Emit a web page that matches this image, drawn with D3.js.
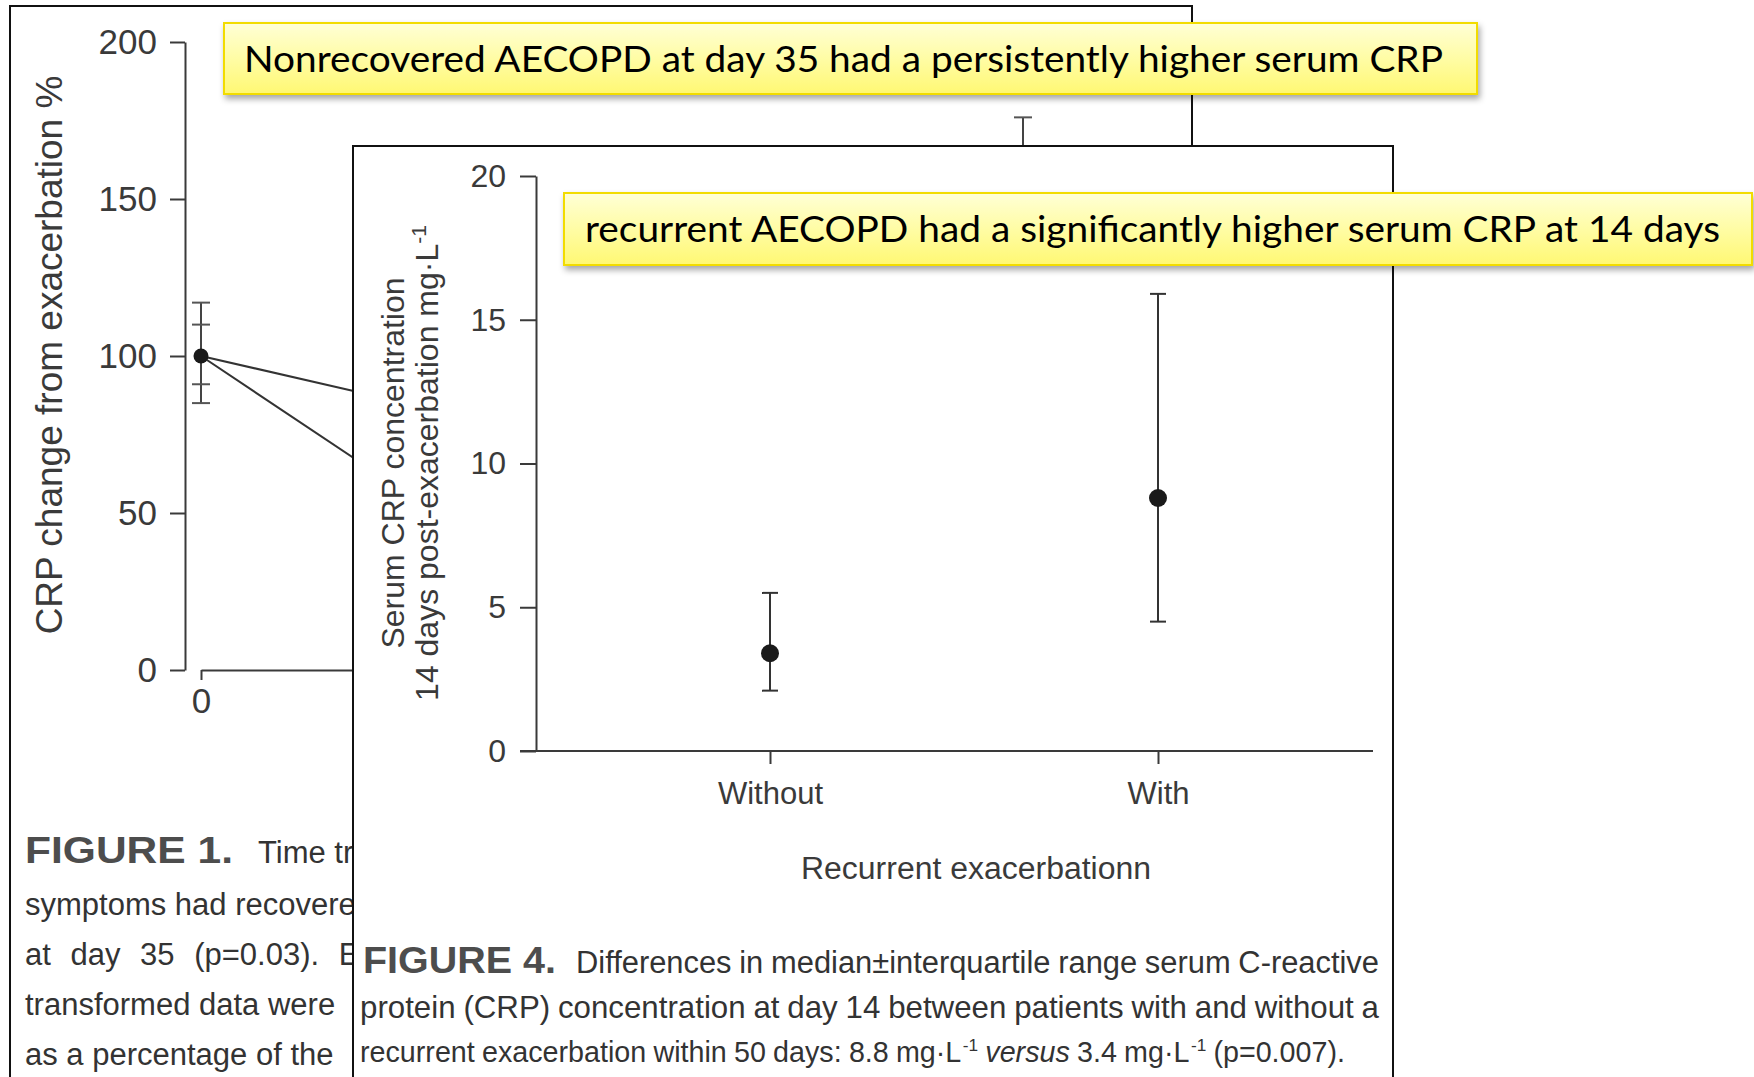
<!DOCTYPE html>
<html>
<head>
<meta charset="utf-8">
<script src="https://cdn.jsdelivr.net/npm/d3@7"></script>
<style>
  html, body { margin: 0; padding: 0; background: #fff; }
  svg { display: block; }
</style>
</head>
<body>
<svg id="chart" width="1754" height="1077"></svg>
<script>
// ---- Figure 1: CRP change from exacerbation (%) over time ----
const timeDays = [0, 7, 35];
const nonrecoveredMedian = [100, 88, 120];
const nonrecoveredQ1 = [85, 70, 82];
const nonrecoveredQ3 = [117, 104, 176];
const recoveredMedian = [100, 65, 42];
const recoveredQ1 = [91, 50, 30];
const recoveredQ3 = [110, 80, 60];
const pctTicks = [0, 50, 100, 150, 200];
const dayTicks = [0];

// ---- Figure 4: serum CRP at day 14 by recurrence ----
const groups = ["Without", "With"];
const crpMedian = [3.4, 8.8];
const crpQ1 = [2.1, 4.5];
const crpQ3 = [5.5, 15.9];
const crpTicks = [0, 5, 10, 15, 20];

// ---- Call-out notes ----
const noteTexts = [
  "Nonrecovered AECOPD at day 35 had a persistently higher serum CRP",
  "recurrent AECOPD had a significantly higher serum CRP at 14 days"
];

const svg = d3.select("#chart");
const SANS = "'Liberation Sans', Arial, Helvetica, sans-serif";
const NARROW = "'Liberation Sans Narrow', 'Arial Narrow', 'Liberation Sans', Arial, sans-serif";
const AXIS = "#3a3a3a";

// defs: note gradient + shadow
const defs = svg.append("defs");
const grad = defs.append("linearGradient").attr("id", "noteFill")
  .attr("x1", 0).attr("y1", 0).attr("x2", 0).attr("y2", 1);
grad.append("stop").attr("offset", "0%").attr("stop-color", "#ffffd6");
grad.append("stop").attr("offset", "55%").attr("stop-color", "#fffca0");
grad.append("stop").attr("offset", "100%").attr("stop-color", "#fff873");
const shadow = defs.append("filter").attr("id", "noteShadow")
  .attr("x", "-5%").attr("y", "-30%").attr("width", "110%").attr("height", "170%");
shadow.append("feDropShadow").attr("dx", 2).attr("dy", 4).attr("stdDeviation", 3)
  .attr("flood-color", "#000").attr("flood-opacity", 0.35);

function styleAxis(g, size, color) {
  g.attr("font-family", SANS).attr("font-size", size);
  g.selectAll("line").attr("stroke", color).attr("stroke-width", 2);
  g.selectAll("path.domain").attr("stroke", color).attr("stroke-width", 2);
  g.selectAll("text").attr("fill", color);
}

// Lays out one caption line word by word in a narrow face. A justified line
// spreads the leftover room across the word gaps; the last line of a
// paragraph keeps normal spacing and is sized to run to `width`.
function captionLine(parent, segs, x, y, width, fs, justify) {
  const items = segs.map(s => {
    const el = parent.append("text")
      .attr("font-family", NARROW)
      .attr("font-size", s.sup ? fs * 0.6 : fs)
      .attr("font-style", s.italic ? "italic" : null)
      .text(s.t);
    return { s, el, w: el.node().getComputedTextLength() };
  });
  const gaps = items.filter((d, i) => i > 0 && !d.s.attach).length;
  const sumW = d3.sum(items, d => d.w);
  const space = fs * 0.25;
  const natural = sumW + gaps * space;
  let k = 1;
  if (!justify || natural > width) k = width / natural;
  const f = fs * k;
  const gap = justify ? (gaps ? (width - sumW * k) / gaps : 0) : space * k;
  let cx = x;
  items.forEach((d, i) => {
    if (i > 0) cx += d.s.attach ? 1.5 : gap;
    d.el.attr("font-size", d.s.sup ? f * 0.6 : f)
      .attr("x", cx)
      .attr("y", d.s.sup ? y - f * 0.38 : y);
    cx += d.w * k;
  });
}
const words = str => str.split(" ").map(t => ({ t }));

// =================== Figure 1 (background page) ===================
const f1 = svg.append("g");
f1.append("rect").attr("x", 10).attr("y", 6).attr("width", 1182).attr("height", 1120)
  .attr("fill", "#fff").attr("stroke", "#111").attr("stroke-width", 2);

const y1 = d3.scaleLinear().domain([0, 200]).range([670, 42]);
const x1 = d3.scaleLinear().domain([0, 35]).range([201, 1023]);

const y1Axis = f1.append("g").attr("transform", "translate(185,0)")
  .call(d3.axisLeft(y1).tickValues(pctTicks).tickSize(15).tickSizeOuter(0).tickPadding(13));
styleAxis(y1Axis, 35, AXIS);

const x1Axis = f1.append("g").attr("transform", "translate(0,670)")
  .call(d3.axisBottom(x1).tickValues(dayTicks).tickSize(10).tickSizeOuter(0).tickPadding(8));
styleAxis(x1Axis, 35, AXIS);

f1.append("text")
  .attr("transform", "translate(62,355) rotate(-90)")
  .attr("text-anchor", "middle").attr("font-family", SANS).attr("font-size", 37)
  .attr("fill", AXIS).text("CRP change from exacerbation %");

const f1Series = [
  { med: nonrecoveredMedian, lo: nonrecoveredQ1, hi: nonrecoveredQ3 },
  { med: recoveredMedian, lo: recoveredQ1, hi: recoveredQ3 }
];
const line1 = d3.line().x((d, i) => x1(timeDays[i])).y(d => y1(d));
f1Series.forEach(s => {
  f1.append("path").attr("d", line1(s.med)).attr("fill", "none")
    .attr("stroke", "#333").attr("stroke-width", 2);
  timeDays.forEach((day, i) => {
    const cx = x1(day);
    f1.append("line").attr("x1", cx).attr("x2", cx)
      .attr("y1", y1(s.lo[i])).attr("y2", y1(s.hi[i]))
      .attr("stroke", "#444").attr("stroke-width", 2);
    [s.lo[i], s.hi[i]].forEach(v => {
      f1.append("line").attr("x1", cx - 9).attr("x2", cx + 9)
        .attr("y1", y1(v)).attr("y2", y1(v))
        .attr("stroke", "#555").attr("stroke-width", 2);
    });
  });
});
f1.append("circle").attr("cx", x1(timeDays[0])).attr("cy", y1(nonrecoveredMedian[0]))
  .attr("r", 7.5).attr("fill", "#1a1a1a");

// Figure 1 caption
const cap1 = f1.append("g").attr("font-family", SANS).attr("fill", "#333");
cap1.append("text").attr("x", 25).attr("y", 863).attr("font-size", 37)
  .attr("font-weight", "bold").attr("fill", "#4d4d4d")
  .attr("textLength", 208).attr("lengthAdjust", "spacingAndGlyphs").text("FIGURE 1.");
cap1.append("text").attr("x", 258).attr("y", 863).attr("font-size", 31).text("Time tr");
cap1.append("text").attr("x", 25).attr("y", 915).attr("font-size", 31).text("symptoms had recovere");
cap1.append("text").attr("x", 25).attr("y", 965).attr("font-size", 31)
  .attr("word-spacing", "11px").text("at day 35 (p=0.03). E");
cap1.append("text").attr("x", 25).attr("y", 1015).attr("font-size", 31).text("transformed data were");
cap1.append("text").attr("x", 25).attr("y", 1065).attr("font-size", 31).text("as a percentage of the");

// =================== Figure 4 (front page) ===================
const f4 = svg.append("g");
f4.append("rect").attr("x", 353).attr("y", 146).attr("width", 1040).attr("height", 1000)
  .attr("fill", "#fff").attr("stroke", "#111").attr("stroke-width", 2);

const y4 = d3.scaleLinear().domain([0, 20]).range([751, 176]);
const x4 = d3.scalePoint().domain(groups).range([770, 1158]);

const y4Axis = f4.append("g").attr("transform", "translate(536,0)")
  .call(d3.axisLeft(y4).tickValues(crpTicks).tickSize(16).tickSizeOuter(0).tickPadding(14));
styleAxis(y4Axis, 32, AXIS);

const x4Axis = f4.append("g").attr("transform", "translate(0,751)")
  .call(d3.axisBottom(x4).tickSize(13).tickSizeOuter(0).tickPadding(18));
x4Axis.select("path.domain").remove();
styleAxis(x4Axis, 31, AXIS);
f4.append("line").attr("x1", 520).attr("x2", 1373).attr("y1", 751).attr("y2", 751)
  .attr("stroke", AXIS).attr("stroke-width", 2);

// y title (two lines)
f4.append("text").attr("transform", "translate(404,463) rotate(-90)")
  .attr("text-anchor", "middle").attr("font-family", SANS).attr("font-size", 32).attr("fill", AXIS)
  .text("Serum CRP concentration");
const yt2 = f4.append("text").attr("transform", "translate(438,463) rotate(-90)")
  .attr("text-anchor", "middle").attr("font-family", SANS).attr("font-size", 32).attr("fill", AXIS);
yt2.append("tspan").text("14 days post-exacerbation mg\u00b7L");
yt2.append("tspan").attr("font-size", 21).attr("dy", -12).text("-1");

f4.append("text").attr("x", 976).attr("y", 879).attr("text-anchor", "middle")
  .attr("font-family", SANS).attr("font-size", 31).attr("fill", AXIS)
  .attr("textLength", 350).attr("lengthAdjust", "spacingAndGlyphs")
  .text("Recurrent exacerbationn");

// median ± IQR markers
groups.forEach((g, i) => {
  const cx = x4(g);
  f4.append("line").attr("x1", cx).attr("x2", cx)
    .attr("y1", y4(crpQ1[i])).attr("y2", y4(crpQ3[i]))
    .attr("stroke", "#333").attr("stroke-width", 2);
  [crpQ1[i], crpQ3[i]].forEach(v => {
    f4.append("line").attr("x1", cx - 8).attr("x2", cx + 8)
      .attr("y1", y4(v)).attr("y2", y4(v))
      .attr("stroke", "#333").attr("stroke-width", 2);
  });
  f4.append("circle").attr("cx", cx).attr("cy", y4(crpMedian[i]))
    .attr("r", 9).attr("fill", "#1a1a1a");
});

// Figure 4 caption (justified)
const cap4 = f4.append("g").attr("fill", "#333");
cap4.append("text").attr("x", 363).attr("y", 973).attr("font-family", SANS).attr("font-size", 36)
  .attr("font-weight", "bold").attr("fill", "#4d4d4d")
  .attr("textLength", 193).attr("lengthAdjust", "spacingAndGlyphs").text("FIGURE 4.");
captionLine(cap4, words("Differences in median\u00b1interquartile range serum C-reactive"),
  576, 973, 803, 33, true);
captionLine(cap4, words("protein (CRP) concentration at day 14 between patients with and without a"),
  360, 1018, 1019, 33, true);
captionLine(cap4, [
  ...words("recurrent exacerbation within 50 days: 8.8 mg\u00b7L"),
  { t: "-1", sup: true, attach: true },
  { t: "versus", italic: true },
  ...words("3.4 mg\u00b7L"),
  { t: "-1", sup: true, attach: true },
  { t: "(p=0.007)." }
], 360, 1062, 982, 33, false);

// =================== Call-out notes ===================
const notePos = [
  { x: 224, y: 23, w: 1253, h: 71, tx: 244, tw: 1199 },
  { x: 564, y: 193, w: 1188, h: 72, tx: 585, tw: 1135 }
];
noteTexts.forEach((t, i) => {
  const p = notePos[i];
  const g = svg.append("g");
  g.append("rect").attr("x", p.x).attr("y", p.y).attr("width", p.w).attr("height", p.h)
    .attr("fill", "url(#noteFill)").attr("stroke", "#f2dc00").attr("stroke-width", 2)
    .attr("filter", "url(#noteShadow)");
  g.append("text").attr("x", p.tx).attr("y", p.y + 49)
    .attr("font-family", "Lato, 'Open Sans', sans-serif").attr("font-size", 36).attr("fill", "#000")
    .attr("textLength", p.tw).attr("lengthAdjust", "spacingAndGlyphs").text(t);
});
</script>
</body>
</html>
